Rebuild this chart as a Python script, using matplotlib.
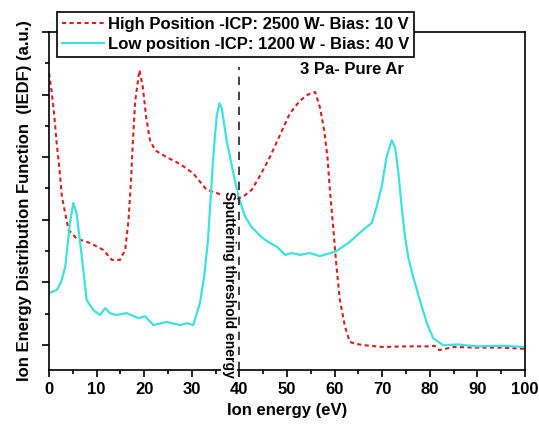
import numpy as np
import matplotlib.pyplot as plt
from matplotlib.ticker import MultipleLocator

plt.rcParams['font.family'] = ['Liberation Sans', 'DejaVu Sans']
plt.rcParams['font.weight'] = 'bold'

# High position (ICP 2500 W, bias 10 V)
high_x = [0, 0.57, 1.05, 1.6, 2.2, 2.7, 3.4, 4.1, 5.8, 8.6, 11.4, 13.2, 14.9, 16.0, 16.7, 17.2,
          17.6, 18.1, 19.0, 19.7, 20.4, 21.2, 22.3, 24.7, 26.8, 28.5, 30.3, 33.1, 35.2, 37.0,
          39.1, 40.8, 42.6, 44.3, 46.4, 48.5, 50.6, 52.7, 54.4, 55.9, 56.9, 57.8, 58.5, 59.0,
          59.7, 60.4, 61.1, 62.2, 63.2, 64.5, 66, 70, 75, 80, 81, 82, 85, 90, 95, 100]
high_y = [4.34, 4.03, 3.7, 3.23, 2.8, 2.37, 2.1, 1.84, 1.7, 1.63, 1.52, 1.36, 1.36, 1.52, 2.0, 2.6,
          3.23, 3.9, 4.39, 4.12, 3.64, 3.27, 3.11, 3.0, 2.92, 2.84, 2.74, 2.48, 2.43, 2.37,
          2.32, 2.37, 2.48, 2.7, 3.0, 3.35, 3.7, 3.9, 4.0, 4.04, 3.8, 3.43, 3.0, 2.48,
          1.88, 1.25, 0.72, 0.29, 0.05, 0.02, 0.0, -0.03, -0.02, -0.02, -0.01, -0.08, -0.03,
          -0.04, -0.04, -0.06]

# Low position (ICP 1200 W, bias 40 V)
low_x = [0, 1.6, 2.5, 3.4, 4.4, 5.1, 5.8, 6.9, 7.9, 9.3, 10.7, 11.8, 12.8, 14.0, 16.3, 18.8,
         20.2, 21.9, 24.7, 27.5, 29.0, 30.3, 31.7, 32.6, 33.4, 34.5, 35.2, 35.8, 36.3, 37.3,
         38.7, 39.8, 41.2, 42.6, 44.7, 46.4, 47.9, 49.6, 51.0, 52.7, 54.8, 56.9, 60.4, 63.2,
         66.0, 67.8, 68.8, 69.9, 70.9, 72.0, 72.7, 73.4, 74.1, 74.8, 75.5, 76.5, 77.9, 79.4,
         80.7, 82.8, 86, 90, 95, 100]
low_y = [0.83, 0.88, 1.0, 1.25, 1.95, 2.27, 2.1, 1.4, 0.72, 0.56, 0.48, 0.59, 0.51, 0.48, 0.51, 0.43,
         0.46, 0.32, 0.37, 0.32, 0.35, 0.32, 0.67, 1.1, 1.68, 3.0, 3.64, 3.86, 3.78, 3.27,
         2.75, 2.37, 2.05, 1.88, 1.72, 1.63, 1.57, 1.44, 1.47, 1.44, 1.47, 1.42, 1.5, 1.65,
         1.84, 1.95, 2.2, 2.53, 3.0, 3.27, 3.16, 2.75, 2.2, 1.73, 1.39, 1.09, 0.72, 0.35,
         0.11, 0.0, 0.01, -0.02, -0.01, -0.03]

fig = plt.figure(figsize=(5.39, 4.25), dpi=100)
ax = fig.add_axes([0.091, 0.129, 0.883, 0.796])

ax.plot(high_x, high_y, color='#d42020', lw=1.5, ls=(0, (2, 1.6)),
        label='High Position -ICP: 2500 W- Bias: 10 V')
ax.plot(low_x, low_y, color='#3fe0e0', lw=1.6,
        label='Low position -ICP: 1200 W - Bias: 40 V')

ax.axvline(40, ymax=0.896, color='#222222', lw=1.2, ls=(0, (5, 4)))
ax.text(37.8, 0.97, 'Sputtering threshold energy', rotation=270, ha='center', va='center',
        fontsize=10, fontweight='bold',
        bbox=dict(facecolor='white', edgecolor='none', pad=0.5), clip_on=False)
ax.text(63.7, 4.4, '3 Pa- Pure Ar', ha='center', va='center', fontsize=12, fontweight='bold')

ax.set_xlim(0, 100)
ax.set_ylim(-0.4, 5)
ax.xaxis.set_major_locator(MultipleLocator(10))
ax.xaxis.set_minor_locator(MultipleLocator(5))
ax.yaxis.set_major_locator(MultipleLocator(1))
ax.yaxis.set_minor_locator(MultipleLocator(0.5))
ax.set_yticklabels([])
ax.tick_params(which='both', direction='out', top=False, right=False, width=1.2)
ax.tick_params(which='major', length=5, labelsize=12)
ax.tick_params(which='minor', length=3)
for s in ax.spines.values():
    s.set_linewidth(1.2)

ax.set_xlabel('Ion energy (eV)', fontsize=12, fontweight='bold')
ax.set_ylabel('Ion Energy Distribution Function  (IEDF) (a.u.)', fontsize=12, fontweight='bold')

leg = ax.legend(loc='upper left', bbox_to_anchor=(0.017, 1.06), fontsize=12, frameon=True,
                fancybox=False, edgecolor='black', framealpha=1, borderpad=0.3,
                labelspacing=0.3, handlelength=2.5, handletextpad=0.25, borderaxespad=0)
leg.get_frame().set_linewidth(1.2)
leg.set_zorder(5)

fig.savefig('out.png', dpi=100)
